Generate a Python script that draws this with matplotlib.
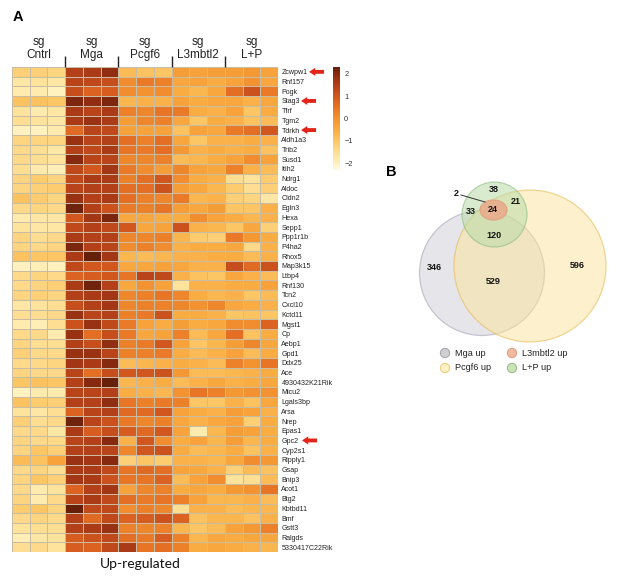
import numpy as np
import matplotlib
matplotlib.use("Agg")
import matplotlib.pyplot as plt
from matplotlib.colors import LinearSegmentedColormap
from matplotlib.patches import Circle, Ellipse

# ---------------- data ----------------
groups = ["Cntrl", "Mga", "Pcgf6", "L3mbtl2", "L+P"]
genes = ["Zcwpw1", "Rnf157", "Pogk", "Stag3", "Tfrf", "Tgm2", "Tdrkh", "Aldh1a3", "Trib2",
         "Susd1", "Itih2", "Ndrg1", "Aldoc", "Cldn2", "Egln3", "Hexa", "Sepp1", "Ppp1r1b",
         "P4ha2", "Rhox5", "Map3k15", "Ltbp4", "Rnf130", "Tcn2", "Cxcl10", "Kctd11", "Mgst1",
         "Cp", "Aebp1", "Gpd1", "Ddx25", "Ace", "4930432K21Rik", "Micu2", "Lgals3bp", "Arsa",
         "Nrep", "Epas1", "Gpc2", "Cyp2s1", "Ripply1", "Gsap", "Bnip3", "Acot1", "Btg2",
         "Kbtbd11", "Bmf", "Gstt3", "Ralgds", "5330417C22Rik"]
highlighted = ["Zcwpw1", "Stag3", "Tdrkh", "Gpc2"]

z_cntrl = [
    [-1.2, -1.2, -1.3], [-1.7, -1.6, -1.7], [-1.8, -1.8, -2.0], [-0.9, -0.9, -1.0],
    [-1.6, -1.8, -1.7], [-1.5, -1.6, -1.7], [-2.0, -2.0, -1.8], [-1.3, -1.3, -1.3],
    [-1.4, -1.5, -1.7], [-1.4, -1.5, -1.6], [-1.5, -1.8, -1.9], [-1.3, -1.1, -1.3],
    [-1.3, -1.2, -1.1], [-0.9, -1.1, -1.3], [-1.4, -1.3, -1.4], [-1.8, -1.7, -1.7],
    [-1.6, -1.7, -1.7], [-1.3, -1.5, -1.4], [-1.3, -1.4, -1.3], [-0.9, -1.0, -1.0],
    [-2.0, -1.9, -2.0], [-1.4, -1.3, -1.4], [-1.4, -1.3, -1.2], [-1.3, -1.2, -1.3],
    [-1.7, -1.6, -1.5], [-1.5, -1.5, -1.4], [-1.8, -1.9, -1.5], [-1.4, -1.4, -1.8],
    [-1.3, -1.5, -1.5], [-1.2, -1.4, -1.4], [-1.4, -1.4, -1.3], [-1.3, -1.4, -1.4],
    [-1.0, -0.9, -1.0], [-2.0, -1.8, -1.8], [-0.9, -1.1, -1.2], [-1.6, -1.7, -1.5],
    [-1.2, -1.5, -1.4], [-1.4, -1.4, -1.7], [-1.3, -1.4, -1.4], [-1.3, -1.0, -1.2],
    [-0.8, -0.9, -0.3], [-1.4, -1.3, -1.5], [-1.3, -1.0, -1.2], [-1.4, -1.8, -1.6],
    [-1.3, -1.8, -1.4], [-1.1, -1.0, -1.3], [-1.4, -1.3, -1.4], [-1.6, -1.5, -1.5],
    [-1.9, -1.7, -1.6], [-1.5, -1.4, -1.6]]
z_mga = [
    [1.5, 1.6, 1.9], [1.4, 1.3, 1.2], [1.2, 0.8, 0.9], [2.1, 1.9, 2.1],
    [1.6, 1.4, 1.6], [1.6, 1.8, 1.6], [0.7, 1.4, 1.3], [1.8, 1.4, 1.5],
    [1.5, 1.3, 1.6], [2.0, 1.4, 1.4], [1.3, 1.0, 1.7], [1.3, 1.6, 1.6],
    [1.4, 1.5, 1.5], [1.8, 1.5, 1.6], [2.2, 1.5, 1.1], [1.0, 1.7, 2.1],
    [1.3, 1.5, 1.3], [1.6, 1.5, 1.5], [2.1, 1.5, 1.4], [1.6, 2.3, 1.7],
    [1.3, 1.0, 1.0], [0.8, 0.9, 1.0], [1.6, 2.2, 1.5], [1.5, 1.6, 1.7],
    [1.2, 1.5, 1.7], [1.8, 1.4, 1.5], [1.1, 1.8, 1.3], [1.8, 0.6, 1.2],
    [1.5, 1.2, 1.9], [1.8, 1.8, 1.4], [1.7, 1.6, 2.0], [1.4, 0.6, 1.2],
    [1.5, 2.0, 2.3], [1.4, 1.4, 1.5], [1.5, 1.5, 1.9], [0.8, 1.4, 1.5],
    [2.2, 1.4, 1.1], [1.6, 0.9, 1.2], [1.4, 1.5, 2.0], [1.5, 1.5, 1.4],
    [1.8, 1.7, 2.0], [1.6, 1.6, 1.3], [1.7, 1.6, 1.1], [0.8, 1.5, 1.7],
    [1.4, 1.6, 1.3], [2.4, 1.3, 1.3], [1.5, 0.7, 1.3], [1.5, 1.6, 1.8],
    [0.9, 1.1, 1.3], [0.9, 0.8, 1.3]]
z_pcgf6 = [
    [-0.8, -0.9, -1.0], [0.1, 0.4, 0.3], [0.1, 0.0, 0.1], [-0.7, -0.6, -0.6],
    [0.3, 0.2, 0.5], [-0.2, 0.2, 0.3], [-0.3, -0.3, -0.3], [0.6, 0.3, 0.6],
    [0.5, 0.4, 0.6], [0.2, 0.2, 0.3], [0.4, 0.1, -0.2], [0.3, 0.6, 1.0],
    [0.6, 0.6, 1.1], [0.6, 0.3, 0.2], [0.4, 0.3, 0.5], [-0.4, -0.4, -0.5],
    [1.0, -0.4, -0.3], [0.2, 0.2, 0.3], [0.1, 0.3, 0.1], [-0.7, -0.8, -0.7],
    [-0.4, -0.4, -0.3], [0.5, 1.4, 1.3], [-0.4, 0.0, -0.3], [0.2, 0.3, 0.5],
    [0.2, 0.3, 0.3], [0.3, 0.4, 1.1], [0.4, -0.3, -0.5], [0.4, -0.4, -0.3],
    [0.3, 0.4, 1.0], [0.3, 0.3, 0.4], [-0.8, -0.7, -0.6], [1.0, 1.0, 1.1],
    [-0.7, -0.6, -0.5], [-0.5, -0.6, -0.7], [0.5, 0.3, 0.4], [0.7, 0.7, 1.0],
    [0.4, 0.2, 0.3], [0.9, 0.7, 1.0], [-0.6, 1.0, 0.1], [0.2, 1.0, 1.1],
    [-1.2, -1.0, -1.1], [0.5, 0.7, 0.6], [0.5, 0.5, 0.8], [-0.3, 0.2, 0.3],
    [0.6, 0.4, 0.5], [0.1, 0.3, 0.2], [0.8, 0.9, 1.1], [0.3, 0.2, 0.3],
    [0.6, 0.4, 0.9], [1.6, 0.5, 0.6]]
z_l3 = [
    [-0.2, -0.3, -0.2], [-0.4, -0.3, -0.5], [-0.5, -0.7, -0.4], [-0.3, -0.5, -0.4],
    [0.4, -0.5, -0.6], [-0.4, -1.0, -0.5], [-0.9, -0.3, -0.4], [-0.4, -1.0, -0.6],
    [-0.1, -0.6, -0.5], [-0.8, -0.7, -0.5], [0.2, -0.3, -0.4], [0.1, -0.5, -0.6],
    [-0.2, -0.4, -0.7], [0.4, -0.7, -0.6], [-0.2, -0.4, -0.2], [-0.5, 0.1, -0.3],
    [1.1, -0.6, -0.7], [-0.7, -1.1, -1.2], [-0.6, -0.5, -0.5], [-0.6, -0.6, -0.5],
    [-0.4, -0.6, -0.6], [-0.6, -0.9, -1.0], [-1.6, -0.6, -0.6], [0.2, -0.5, -0.7],
    [0.2, 0.0, 0.2], [-0.5, -0.5, -0.6], [-0.2, -0.5, -0.4], [0.3, -0.8, -0.4],
    [-0.3, -1.0, -0.7], [-0.5, -0.8, -0.6], [-0.5, -0.6, -0.8], [-0.1, -0.8, -0.8],
    [-0.8, -0.6, -0.4], [0.0, 0.5, 0.3], [0.3, -1.0, -1.0], [-0.3, -0.5, -0.6],
    [-0.4, -0.6, -0.4], [-0.3, -1.8, -0.7], [-0.5, -0.3, -0.7], [-0.5, -0.8, -0.7],
    [-0.6, -0.6, -0.7], [-0.3, -0.4, -0.6], [-0.8, -0.3, 0.1], [-0.5, -0.4, -0.5],
    [0.3, -0.3, -0.7], [-1.5, -0.6, -0.6], [0.8, -0.9, -0.7], [-0.7, -1.0, -0.8],
    [0.3, -0.7, -0.4], [0.3, -0.5, -0.4]]
z_lp = [
    [-0.2, -0.1, -0.3], [-0.3, 0.0, -0.4], [0.6, 1.1, 0.4], [-0.4, -0.6, -0.4],
    [-0.3, -1.0, -0.5], [-0.6, -0.9, -0.8], [0.4, 0.6, 1.0], [-0.6, -0.5, -0.6],
    [-0.6, -0.5, -0.9], [-0.3, 0.1, -0.3], [0.3, -0.6, -0.8], [-1.5, -1.6, -1.1],
    [-1.1, -1.5, -1.2], [-1.2, -1.3, -1.7], [-1.0, -1.0, -0.6], [-0.5, -0.7, -0.6],
    [-1.0, -0.4, -1.2], [0.4, -0.1, -0.5], [-0.4, -1.4, -0.6], [-0.5, -0.8, -0.6],
    [1.2, 0.7, 1.1], [-0.4, -0.6, -0.8], [-0.5, -0.5, -0.3], [-0.6, -1.0, -0.8],
    [-0.4, -0.5, -0.6], [-1.0, -0.9, -1.0], [0.1, 0.1, 0.8], [0.6, -0.9, -0.5],
    [-0.2, 0.2, -0.4], [-0.3, -0.8, -0.5], [0.3, 0.0, 0.5], [-0.7, -0.6, -0.5],
    [-0.6, -0.5, -0.4], [-0.1, 0.0, 0.0], [-0.6, -0.9, -0.4], [-0.2, -0.3, -0.6],
    [-0.3, -1.2, -0.5], [-0.2, -0.3, -0.5], [-0.2, -0.7, -0.5], [-0.5, -0.9, -0.6],
    [-0.4, 0.1, -0.1], [-1.2, -0.8, -0.9], [-1.6, -1.5, -0.8], [-0.1, 0.0, 0.5],
    [-0.7, -0.6, -0.8], [-0.8, -0.7, -0.7], [-0.7, -0.9, -0.6], [-0.3, -0.1, 0.3],
    [-0.5, -0.4, -0.4], [-0.5, -0.6, -0.7]]

cbar_ticks = [2, 1, 0, -1, -2]

venn_sets = ["Mga up", "L3mbtl2 up", "Pcgf6 up", "L+P up"]
venn_only_mga = 346
venn_only_pcgf6 = 596
venn_mga_pcgf6 = 529
venn_lp_only = 38
venn_lp_mga = 33
venn_lp_pcgf6 = 21
venn_lp_mga_pcgf6 = 120
venn_l3_core = 24
venn_l3_other = 2

# ---------------- figure ----------------
W, H = 617, 583
fig = plt.figure(figsize=(W / 100, H / 100), dpi=100)
fig.patch.set_facecolor("white")
font = ["Liberation Sans", "DejaVu Sans"]


def fx(px):
    return px / W


def fy(py):
    return 1 - py / H


cmap = LinearSegmentedColormap.from_list("heat", [
    (0.00, "#FFFBE0"), (0.065, "#FFF2BE"), (0.17, "#FEDF94"), (0.28, "#FCC766"),
    (0.39, "#F9AC42"), (0.50, "#F39330"), (0.61, "#E87426"), (0.72, "#D2561E"),
    (0.83, "#B23F18"), (0.93, "#8A2A10"), (1.00, "#66200A")])

Z = np.hstack([np.array(z_cntrl), np.array(z_mga), np.array(z_pcgf6),
               np.array(z_l3), np.array(z_lp)])
nrow, ncol = Z.shape

hm_l, hm_r, hm_t, hm_b = 12, 278, 67, 552
ax = fig.add_axes([fx(hm_l), fy(hm_b), fx(hm_r - hm_l), (hm_b - hm_t) / H])
mesh = ax.pcolormesh(np.arange(ncol + 1), np.arange(nrow + 1), Z, cmap=cmap,
                     vmin=-2.3, vmax=2.3, edgecolors="#C9BCA4", linewidth=0.6)
ax.set_xlim(0, ncol)
ax.set_ylim(nrow, 0)
ax.set_xticks([])
ax.set_yticks(np.arange(nrow) + 0.5)
ax.set_yticklabels(genes, fontsize=5.1, family=font, color="#222222")
ax.yaxis.tick_right()
ax.tick_params(axis="y", length=0, pad=2.5)
for s in ax.spines.values():
    s.set_visible(False)

# group headers
for i, g in enumerate(groups):
    xc = i * 3 + 1.5
    ax.text(xc, -2.6, "sg", ha="center", va="center", fontsize=8.5, family=font,
            color="#222222", clip_on=False)
    ax.text(xc, -1.25, g, ha="center", va="center", fontsize=8.5, family=font,
            color="#222222", clip_on=False)
for i in range(1, len(groups)):
    ax.plot([i * 3, i * 3], [-1.1, 0], color="#222222", lw=1.0, clip_on=False,
            solid_capstyle="butt")

# red arrows next to highlighted genes
arrow_x = {"Zcwpw1": 309, "Stag3": 301, "Tdrkh": 301, "Gpc2": 302}
for g in highlighted:
    yv = genes.index(g) + 0.5
    ax.annotate("", xy=(arrow_x[g], yv), xycoords=("figure pixels", "data"),
                xytext=(arrow_x[g] + 15, yv), textcoords=("figure pixels", "data"),
                arrowprops=dict(arrowstyle="simple,head_length=0.45,head_width=0.58,tail_width=0.28",
                                color="#E3241B", lw=0, shrinkA=0, shrinkB=0),
                annotation_clip=False)

# colorbar
cax = fig.add_axes([fx(333), fy(170), fx(7), 103 / H])
cb = fig.colorbar(mesh, cax=cax, ticks=cbar_ticks)
cb.outline.set_visible(False)
cax.tick_params(length=0, pad=3, labelsize=5.3)
cax.set_yticklabels([str(t).replace("-", "\u2212") for t in cbar_ticks], family=font,
                    color="#333333")

# ---------------- overlay (labels + venn) ----------------
ov = fig.add_axes([0, 0, 1, 1])
ov.set_xlim(0, W)
ov.set_ylim(H, 0)
ov.axis("off")

ov.text(13, 17, "A", fontsize=10.5, fontweight="bold", family=font, va="center", ha="left")
ov.text(386, 172, "B", fontsize=10.5, fontweight="bold", family=font, va="center", ha="left")
ov.text(140, 564, "Up-regulated", fontsize=10, family=["Lato", "DejaVu Sans"],
        ha="center", va="center", color="#111111")

# venn circles
ov.add_patch(Circle((482, 273), 62.5, facecolor="#C8C8D2", edgecolor="#8C8CA6",
                    alpha=0.45, lw=0.9))
ov.add_patch(Circle((530, 266), 76, facecolor="#FBE49A", edgecolor="#E8B040",
                    alpha=0.5, lw=0.9))
ov.add_patch(Circle((494.5, 214.5), 32.5, facecolor="#B9DCA8", edgecolor="#88B880",
                    alpha=0.55, lw=0.9))
ov.add_patch(Ellipse((493.5, 210), 27, 20, facecolor="#EBA889", edgecolor="#E0A080",
                     alpha=0.85, lw=0.9))

nk = dict(fontsize=6.5, fontweight="bold", family=font, ha="center", va="center",
          color="#111111")
ov.text(434, 267, str(venn_only_mga), **nk)
ov.text(577, 266, str(venn_only_pcgf6), **nk)
ov.text(493, 281, str(venn_mga_pcgf6), **nk)
ov.text(494, 189, str(venn_lp_only), **nk)
ov.text(471, 211, str(venn_lp_mga), **nk)
ov.text(516, 202, str(venn_lp_pcgf6), **nk)
ov.text(494, 235, str(venn_lp_mga_pcgf6), **nk)
ov.text(493, 210, str(venn_l3_core), **nk)
ov.text(456, 193, str(venn_l3_other), **nk)
ov.plot([461, 485], [195, 202], color="#333333", lw=0.7)

# legend
leg_face = ["#CFCFD2", "#F1BBA2", "#FFF1C4", "#CBE3B7"]
leg_edge = ["#A8A8B0", "#E0A080", "#EFCF7A", "#9CC28E"]
leg_pos = [(445, 353), (512, 353), (445, 368), (512, 368)]
for name, fc, ec, (px, py) in zip(venn_sets, leg_face, leg_edge, leg_pos):
    ov.add_patch(Circle((px, py), 4.6, facecolor=fc, edgecolor=ec, lw=0.8))
    ov.text(px + 10, py, name, fontsize=6.6, family=font, ha="left", va="center",
            color="#222222")

fig.savefig("out.png", dpi=100, facecolor="white")
